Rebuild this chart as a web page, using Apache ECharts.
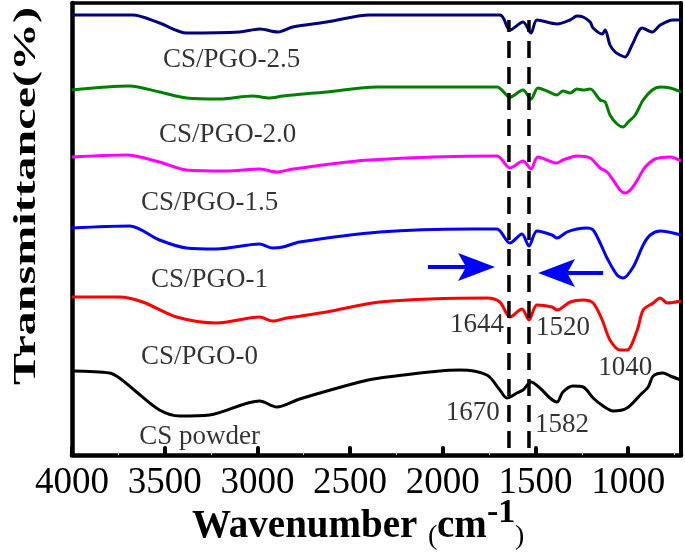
<!DOCTYPE html>
<html><head><meta charset="utf-8">
<script src="https://cdn.jsdelivr.net/npm/echarts@6/dist/echarts.min.js"></script>
<style>html,body{margin:0;padding:0;background:#fff}#c{width:685px;height:554px}</style>
</head><body><div id="c"></div>
<script>
const FONT = "'Liberation Serif','Times New Roman',serif";
const xTicks = [4000, 3500, 3000, 2500, 2000, 1500, 1000];
const xMinorTicks = [3750, 3250, 2750, 2250, 1750, 1250, 750];

const names = ['CS/PGO-2.5', 'CS/PGO-2.0', 'CS/PGO-1.5', 'CS/PGO-1', 'CS/PGO-0', 'CS powder'];
const colors = ['#000080', '#008000', '#FF00FF', '#0000FF', '#FF0000', '#000000'];

const wn_25 = [4000,3673,3528,3382,3096,2988,2890,2809,2626,2394,1692,1638,1567,1524,1492,1384,1313,1276,1243,1205,1189,1140,1124,1098,1070,1044,1016,979,924,870,827,757,715];
const T_25  = [440,440,432,422,423,426,423,428,433,440,440,425,433,422,435,431,435,439,438,433,427,421,425,410,403,400,398,410,427,423,430,435,435];

const wn_20 = [4000,3690,3528,3382,3204,3026,2934,2863,2626,2356,1708,1638,1567,1524,1487,1438,1384,1352,1313,1276,1243,1205,1151,1124,1098,1060,1027,1000,962,919,870,827,773,715];
const T_20  = [365,369,363,357,356,359,357,359,363,368,368,358,365,356,367,364,360,364,362,366,365,366,355,353,340,331,328,333,340,355,365,368,367,363];

const wn_15 = [4000,3706,3528,3382,3166,2988,2896,2809,2394,1708,1638,1567,1524,1487,1384,1352,1276,1205,1151,1114,1081,1044,1016,979,935,908,854,773,715];
const T_15  = [298,300,293,285,284,286,283,286,295,299,287,294,286,298,292,295,299,297,287,283,275,265,262,267,280,288,296,298,294];

const wn_1 = [4000,3690,3528,3382,3220,2988,2917,2863,2772,2339,1853,1708,1638,1573,1535,1492,1411,1384,1330,1276,1222,1189,1151,1114,1060,1027,973,919,881,827,715];
const T_1  = [227,229,215,207,206,211,207,208,213,223,226,226,212,221,209,224,220,217,223,226,227,225,212,197,180,177,188,210,220,224,220];

const wn_0 = [4000,3744,3619,3436,3220,2988,2917,2842,2626,2339,1762,1692,1638,1573,1535,1492,1411,1384,1313,1243,1189,1140,1098,1044,1006,951,919,865,827,789,715];
const T_0  = [158,158,153,138,132,138,134,137,143,153,157,153,138,146,135,150,148,145,153,155,152,135,115,105,105,125,145,152,157,152,154];

const wn_cs = [4000,3798,3744,3652,3528,3420,3258,2988,2896,2772,2448,2339,1907,1762,1692,1654,1600,1567,1524,1476,1422,1384,1352,1298,1243,1189,1135,1081,1006,935,892,865,811,773,715];
const T_cs  = [84,82,77,63,45,39,40,54,48,56,73,77,85,80,65,57,62,65,73,67,57,53,63,69,68,57,49,44,47,60,68,79,82,79,75];

const dashWn = [1643, 1535];
const dashT = [7, 435];

// arrows: [tailWn, tailT, tipWn, tipT]
const arrows = [[2080, 188, 1718, 188], [1135, 182, 1486, 182]];

const annoText = ['CS/PGO-2.5','CS/PGO-2.0','CS/PGO-1.5','CS/PGO-1','CS/PGO-0','CS powder','1644','1520','1040','1670','1582'];
const annoWn   = [3139, 3160, 3258, 3258, 3312, 3312, 1816, 1352, 1016, 1838, 1357];
const annoT    = [395, 320, 252, 175, 98, 18, 130, 127, 87, 42, 30];

const wnSets = [wn_25, wn_20, wn_15, wn_1, wn_0, wn_cs];
const tSets = [T_25, T_20, T_15, T_1, T_0, T_cs];

const series = wnSets.map((w, i) => ({
  name: names[i], type: 'line', smooth: 0.3, symbol: 'none', showSymbol: false,
  lineStyle: { color: colors[i], width: 3 }, itemStyle: { color: colors[i] },
  data: w.map((x, j) => [x, tSets[i][j]]), z: 3
}));

dashWn.forEach(x => {
  series.push({
    type: 'line', symbol: 'none', showSymbol: false, z: 4,
    lineStyle: { color: '#000', width: 3.5, type: [17, 9] },
    data: dashT.map(t => [x, t])
  });
});

series.push({
  type: 'custom', z: 6, silent: true,
  encode: { x: [0, 2], y: [1, 3] },
  data: arrows,
  renderItem: function (params, api) {
    const a = api.coord([api.value(0), api.value(1)]);
    const b = api.coord([api.value(2), api.value(3)]);
    const dx = b[0] - a[0], dy = b[1] - a[1];
    const len = Math.sqrt(dx * dx + dy * dy);
    const ux = dx / len, uy = dy / len, nx = -uy, ny = ux;
    const L = 37, W = 14, notch = 8;
    const bx = b[0] - ux * L, by = b[1] - uy * L;
    const nxp = b[0] - ux * (L - notch), nyp = b[1] - uy * (L - notch);
    return {
      type: 'group',
      children: [
        { type: 'line', shape: { x1: a[0], y1: a[1], x2: nxp, y2: nyp },
          style: { stroke: '#0000FF', lineWidth: 4 } },
        { type: 'polygon', shape: { points: [[b[0], b[1]], [bx + nx * W, by + ny * W], [nxp, nyp], [bx - nx * W, by - ny * W]] },
          style: { fill: '#0000FF' } }
      ]
    };
  }
});

series.push({
  type: 'scatter', symbol: 'circle', symbolSize: 1, z: 5,
  itemStyle: { color: 'rgba(0,0,0,0)' },
  label: { show: true, position: 'inside', formatter: p => p.name, fontFamily: FONT, fontSize: 27, color: '#000' },
  data: annoWn.map((w, i) => ({ name: annoText[i], value: [w, annoT[i]] }))
});

const chart = echarts.init(document.getElementById('c'), null, { renderer: 'canvas' });
chart.setOption({
  animation: false,
  backgroundColor: '#fff',
  grid: { left: 72, right: 4, top: 3, bottom: 99, containLabel: false },
  xAxis: [
    { type: 'value', inverse: true, min: 715, max: 4000, position: 'bottom',
      axisLine: { onZero: false, lineStyle: { color: '#000', width: 4.5 } },
      axisTick: { inside: true, length: 7, customValues: xTicks, lineStyle: { color: '#000', width: 4, cap: 'round' } },
      axisLabel: { customValues: xTicks, formatter: v => String(v), fontFamily: FONT, fontSize: 37, color: '#000', margin: 10 },
      splitLine: { show: false } },
    { type: 'value', inverse: true, min: 715, max: 4000, position: 'bottom',
      axisLine: { show: false, onZero: false },
      axisTick: { inside: true, length: 3, customValues: xMinorTicks, lineStyle: { color: '#cccccc', width: 1 } },
      axisLabel: { show: false }, splitLine: { show: false } },
    { type: 'value', inverse: true, min: 715, max: 4000, position: 'top',
      axisLine: { onZero: false, lineStyle: { color: '#000', width: 3.5 } },
      axisTick: { show: false }, axisLabel: { show: false }, splitLine: { show: false } }
  ],
  yAxis: [
    { type: 'value', min: 0, max: 452, position: 'left',
      axisLine: { show: true, onZero: false, lineStyle: { color: '#000', width: 4.5 } },
      axisTick: { show: false }, axisLabel: { show: false }, splitLine: { show: false } },
    { type: 'value', min: 0, max: 452, position: 'right',
      axisLine: { show: true, onZero: false, lineStyle: { color: '#000', width: 4 } },
      axisTick: { show: false }, axisLabel: { show: false }, splitLine: { show: false } }
  ],
  graphic: [
    { type: 'text', x: 27, y: 196, rotation: Math.PI / 2, scaleX: 1.55,
      style: { text: 'Transmittance(%)', fontFamily: FONT, fontWeight: 'bold', fontSize: 31, fill: '#000', align: 'center', verticalAlign: 'middle' } },
    { type: 'text', x: 192, y: 527,
      style: { text: 'Wavenumber', fontFamily: FONT, fontWeight: 'bold', fontSize: 39, fill: '#000', align: 'left', verticalAlign: 'middle' } },
    { type: 'text', x: 428, y: 537,
      style: { text: '(', fontFamily: FONT, fontSize: 28, fill: '#000', align: 'left', verticalAlign: 'middle' } },
    { type: 'text', x: 437, y: 527,
      style: { text: 'cm', fontFamily: FONT, fontWeight: 'bold', fontSize: 39, fill: '#000', align: 'left', verticalAlign: 'middle' } },
    { type: 'text', x: 487, y: 513,
      style: { text: '-1', fontFamily: FONT, fontWeight: 'bold', fontSize: 34, fill: '#000', align: 'left', verticalAlign: 'middle' } },
    { type: 'text', x: 515, y: 537,
      style: { text: ')', fontFamily: FONT, fontSize: 28, fill: '#000', align: 'left', verticalAlign: 'middle' } }
  ],
  series: series
});
</script></body></html>
